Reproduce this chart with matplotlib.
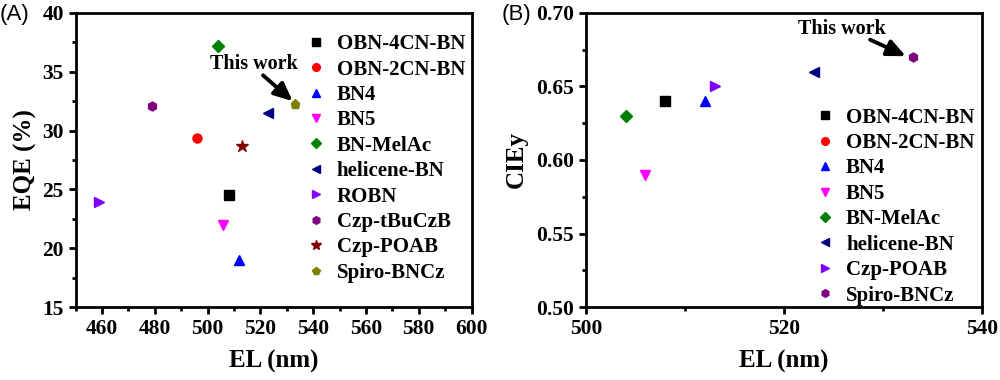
import matplotlib
matplotlib.use("Agg")
import matplotlib.pyplot as plt
import numpy as np

# ---------------- data ----------------
el_a = [508, 496, 512, 506, 504, 523, 459, 479, 513, 533]
eqe_a = [24.5, 29.4, 19.0, 22.0, 37.2, 31.5, 23.9, 32.1, 28.7, 32.3]
markers_a = ["s", "o", "^", "v", "D", "<", ">", "h", "*", "p"]
colors_a = ["black", "red", "blue", "magenta", "#008000", "#000080",
            "#8000FF", "#800080", "#800000", "#808000"]
legend_a = ["OBN-4CN-BN", "OBN-2CN-BN", "BN4", "BN5", "BN-MelAc", "helicene-BN",
            "ROBN", "Czp-tBuCzB", "Czp-POAB", "Spiro-BNCz"]

names_b = ["OBN-4CN-BN", "OBN-2CN-BN", "BN4", "BN5", "BN-MelAc", "helicene-BN",
           "Czp-POAB", "Spiro-BNCz"]
el_b = [508, np.nan, 512, 506, 504, 523, 513, 533]
ciey_b = [0.64, np.nan, 0.64, 0.59, 0.63, 0.66, 0.65, 0.67]
markers_b = ["s", "o", "^", "v", "D", "<", ">", "h"]
colors_b = ["black", "red", "blue", "magenta", "#008000", "#000080",
            "#8000FF", "#800080"]

xticks_a = [460, 480, 500, 520, 540, 560, 580, 600]
yticks_a = [15, 20, 25, 30, 35, 40]
xticks_b = [500, 520, 540]
yticks_b = [0.50, 0.55, 0.60, 0.65, 0.70]

SERIF = "Liberation Serif"
SANS = "Liberation Sans"

fig = plt.figure(figsize=(10, 3.8), dpi=100)

def style_axes(ax):
    for s in ax.spines.values():
        s.set_linewidth(2.0)
    ax.tick_params(which="both", direction="out", top=False, right=False, width=2.0)
    ax.tick_params(which="major", length=5)
    ax.tick_params(which="minor", length=3)
    for lab in ax.get_xticklabels() + ax.get_yticklabels():
        lab.set_fontfamily(SERIF)
        lab.set_fontweight("bold")
        lab.set_fontsize(15.5)

ARROW = dict(arrowstyle="-|>,head_length=1.1,head_width=0.5",
             lw=2.8, color="black", shrinkA=0, shrinkB=0)

# ---------------- panel A ----------------
axA = fig.add_axes([0.0756, 0.192, 0.396, 0.774])
for x, y, m, c, lab in zip(el_a, eqe_a, markers_a, colors_a, legend_a):
    ms = 9 if m == "*" else 6.5
    axA.plot([x], [y], marker=m, color=c, linestyle="none", markersize=ms, label=lab)
axA.set_xlim(450, 600)
axA.set_ylim(15, 40)
axA.set_xticks(xticks_a)
axA.set_xticks(np.arange(450, 601, 10), minor=True)
axA.set_yticks(yticks_a)
axA.set_yticks(np.arange(15, 40.1, 2.5), minor=True)
style_axes(axA)
axA.set_xlabel("EL (nm)", fontfamily=SERIF, fontweight="bold", fontsize=18, labelpad=8)
axA.set_ylabel("EQE (%)", fontfamily=SERIF, fontweight="bold", fontsize=18, labelpad=4)
axA.legend(loc="upper left", bbox_to_anchor=(0.581, 0.928), frameon=False,
           borderpad=0, borderaxespad=0, handlelength=1.0, handletextpad=0.5,
           labelspacing=0.26, prop={"family": SERIF, "weight": "bold", "size": 15},
           markerscale=0.85)
axA.text(517.5, 35.66, "This work", fontfamily=SERIF, fontweight="bold",
         fontsize=14.5, ha="center", va="center")
axA.annotate("", xy=(532.2, 32.5), xytext=(521.0, 34.7), arrowprops=ARROW)
fig.text(0.0, 0.963, "(A)", fontfamily=SANS, fontsize=16, ha="left", va="center")

# ---------------- panel B ----------------
axB = fig.add_axes([0.586, 0.192, 0.396, 0.774])
for x, y, m, c, lab in zip(el_b, ciey_b, markers_b, colors_b, names_b):
    axB.plot([x], [y], marker=m, color=c, linestyle="none", markersize=6.5, label=lab)
axB.set_xlim(500, 540)
axB.set_ylim(0.50, 0.70)
axB.set_xticks(xticks_b)
axB.set_xticks(np.arange(500, 541, 10), minor=True)
axB.set_yticks(yticks_b)
axB.set_yticks(np.arange(0.50, 0.701, 0.025), minor=True)
axB.yaxis.set_major_formatter(matplotlib.ticker.FormatStrFormatter("%.2f"))
style_axes(axB)
axB.set_xlabel("EL (nm)", fontfamily=SERIF, fontweight="bold", fontsize=18, labelpad=8)
axB.set_ylabel("CIEy", fontfamily=SERIF, fontweight="bold", fontsize=18, labelpad=6)
axB.legend(loc="upper left", bbox_to_anchor=(0.578, 0.678), frameon=False,
           borderpad=0, borderaxespad=0, handlelength=1.0, handletextpad=0.5,
           labelspacing=0.26, prop={"family": SERIF, "weight": "bold", "size": 15},
           markerscale=0.85)
axB.text(525.8, 0.689, "This work", fontfamily=SERIF, fontweight="bold",
         fontsize=14.5, ha="center", va="center")
axB.annotate("", xy=(532.3, 0.6706), xytext=(528.7, 0.6818), arrowprops=ARROW)
fig.text(0.502, 0.963, "(B)", fontfamily=SANS, fontsize=16, ha="left", va="center")

fig.savefig("out.png", dpi=100)
